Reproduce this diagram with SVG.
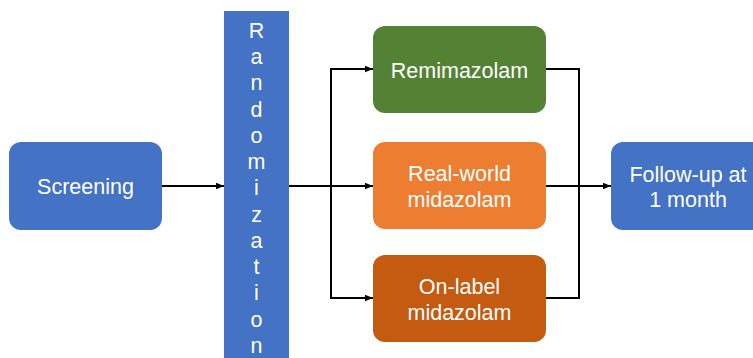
<svg xmlns="http://www.w3.org/2000/svg" width="753" height="358" viewBox="0 0 753 358">
<style>
text{font-family:"Liberation Sans",Arial,sans-serif;font-size:21.5px;fill:#fff;text-anchor:middle}
.c{stroke:#000;stroke-width:2;fill:none}
</style>
<defs>
<marker id="a" viewBox="0 0 10 10" refX="10" refY="5" markerWidth="4" markerHeight="4" orient="auto"><path d="M0,1 L10,5 L0,9 z" fill="#000"/></marker>
</defs>
<rect width="753" height="358" fill="#fff"/>
<g id="connectors">
<line class="c" x1="162" y1="186" x2="224" y2="186" marker-end="url(#a)"/>
<line class="c" x1="289" y1="186" x2="373" y2="186" marker-end="url(#a)"/>
<polyline class="c" points="373,69 331,69 331,298 373,298"/>
<line class="c" x1="331" y1="69" x2="373" y2="69" marker-end="url(#a)"/>
<line class="c" x1="331" y1="298" x2="373" y2="298" marker-end="url(#a)"/>
<polyline class="c" points="546,69 579,69 579,298 546,298"/>
<line class="c" x1="546" y1="186" x2="611" y2="186" marker-end="url(#a)"/>
</g>
<g id="screening">
<rect x="9" y="142" width="153" height="88" rx="12" fill="#4472C4"/>
<text x="85.5" y="194">Screening</text>
</g>
<g id="randomization">
<rect x="224" y="11" width="65" height="350" fill="#4472C4"/>
<text x="256.5" y="38">R</text>
<text x="256.5" y="64">a</text>
<text x="256.5" y="90">n</text>
<text x="256.5" y="117">d</text>
<text x="256.5" y="143">o</text>
<text x="256.5" y="169">m</text>
<text x="256.5" y="195">i</text>
<text x="256.5" y="222">z</text>
<text x="256.5" y="248">a</text>
<text x="256.5" y="274">t</text>
<text x="256.5" y="300">i</text>
<text x="256.5" y="327">o</text>
<text x="256.5" y="353">n</text>
</g>
<g id="remimazolam">
<rect x="373" y="26" width="173" height="87" rx="12" fill="#548235"/>
<text x="459.5" y="78">Remimazolam</text>
</g>
<g id="realworld">
<rect x="373" y="142" width="173" height="87" rx="12" fill="#ED7D31"/>
<text x="459.5" y="181">Real-world</text>
<text x="459.5" y="207">midazolam</text>
</g>
<g id="onlabel">
<rect x="373" y="255" width="173" height="87" rx="12" fill="#C55A11"/>
<text x="459.5" y="294">On-label</text>
<text x="459.5" y="320">midazolam</text>
</g>
<g id="followup">
<rect x="611" y="142" width="154" height="88" rx="12" fill="#4472C4"/>
<text x="688" y="182">Follow-up at</text>
<text x="688" y="207">1 month</text>
</g>
</svg>
